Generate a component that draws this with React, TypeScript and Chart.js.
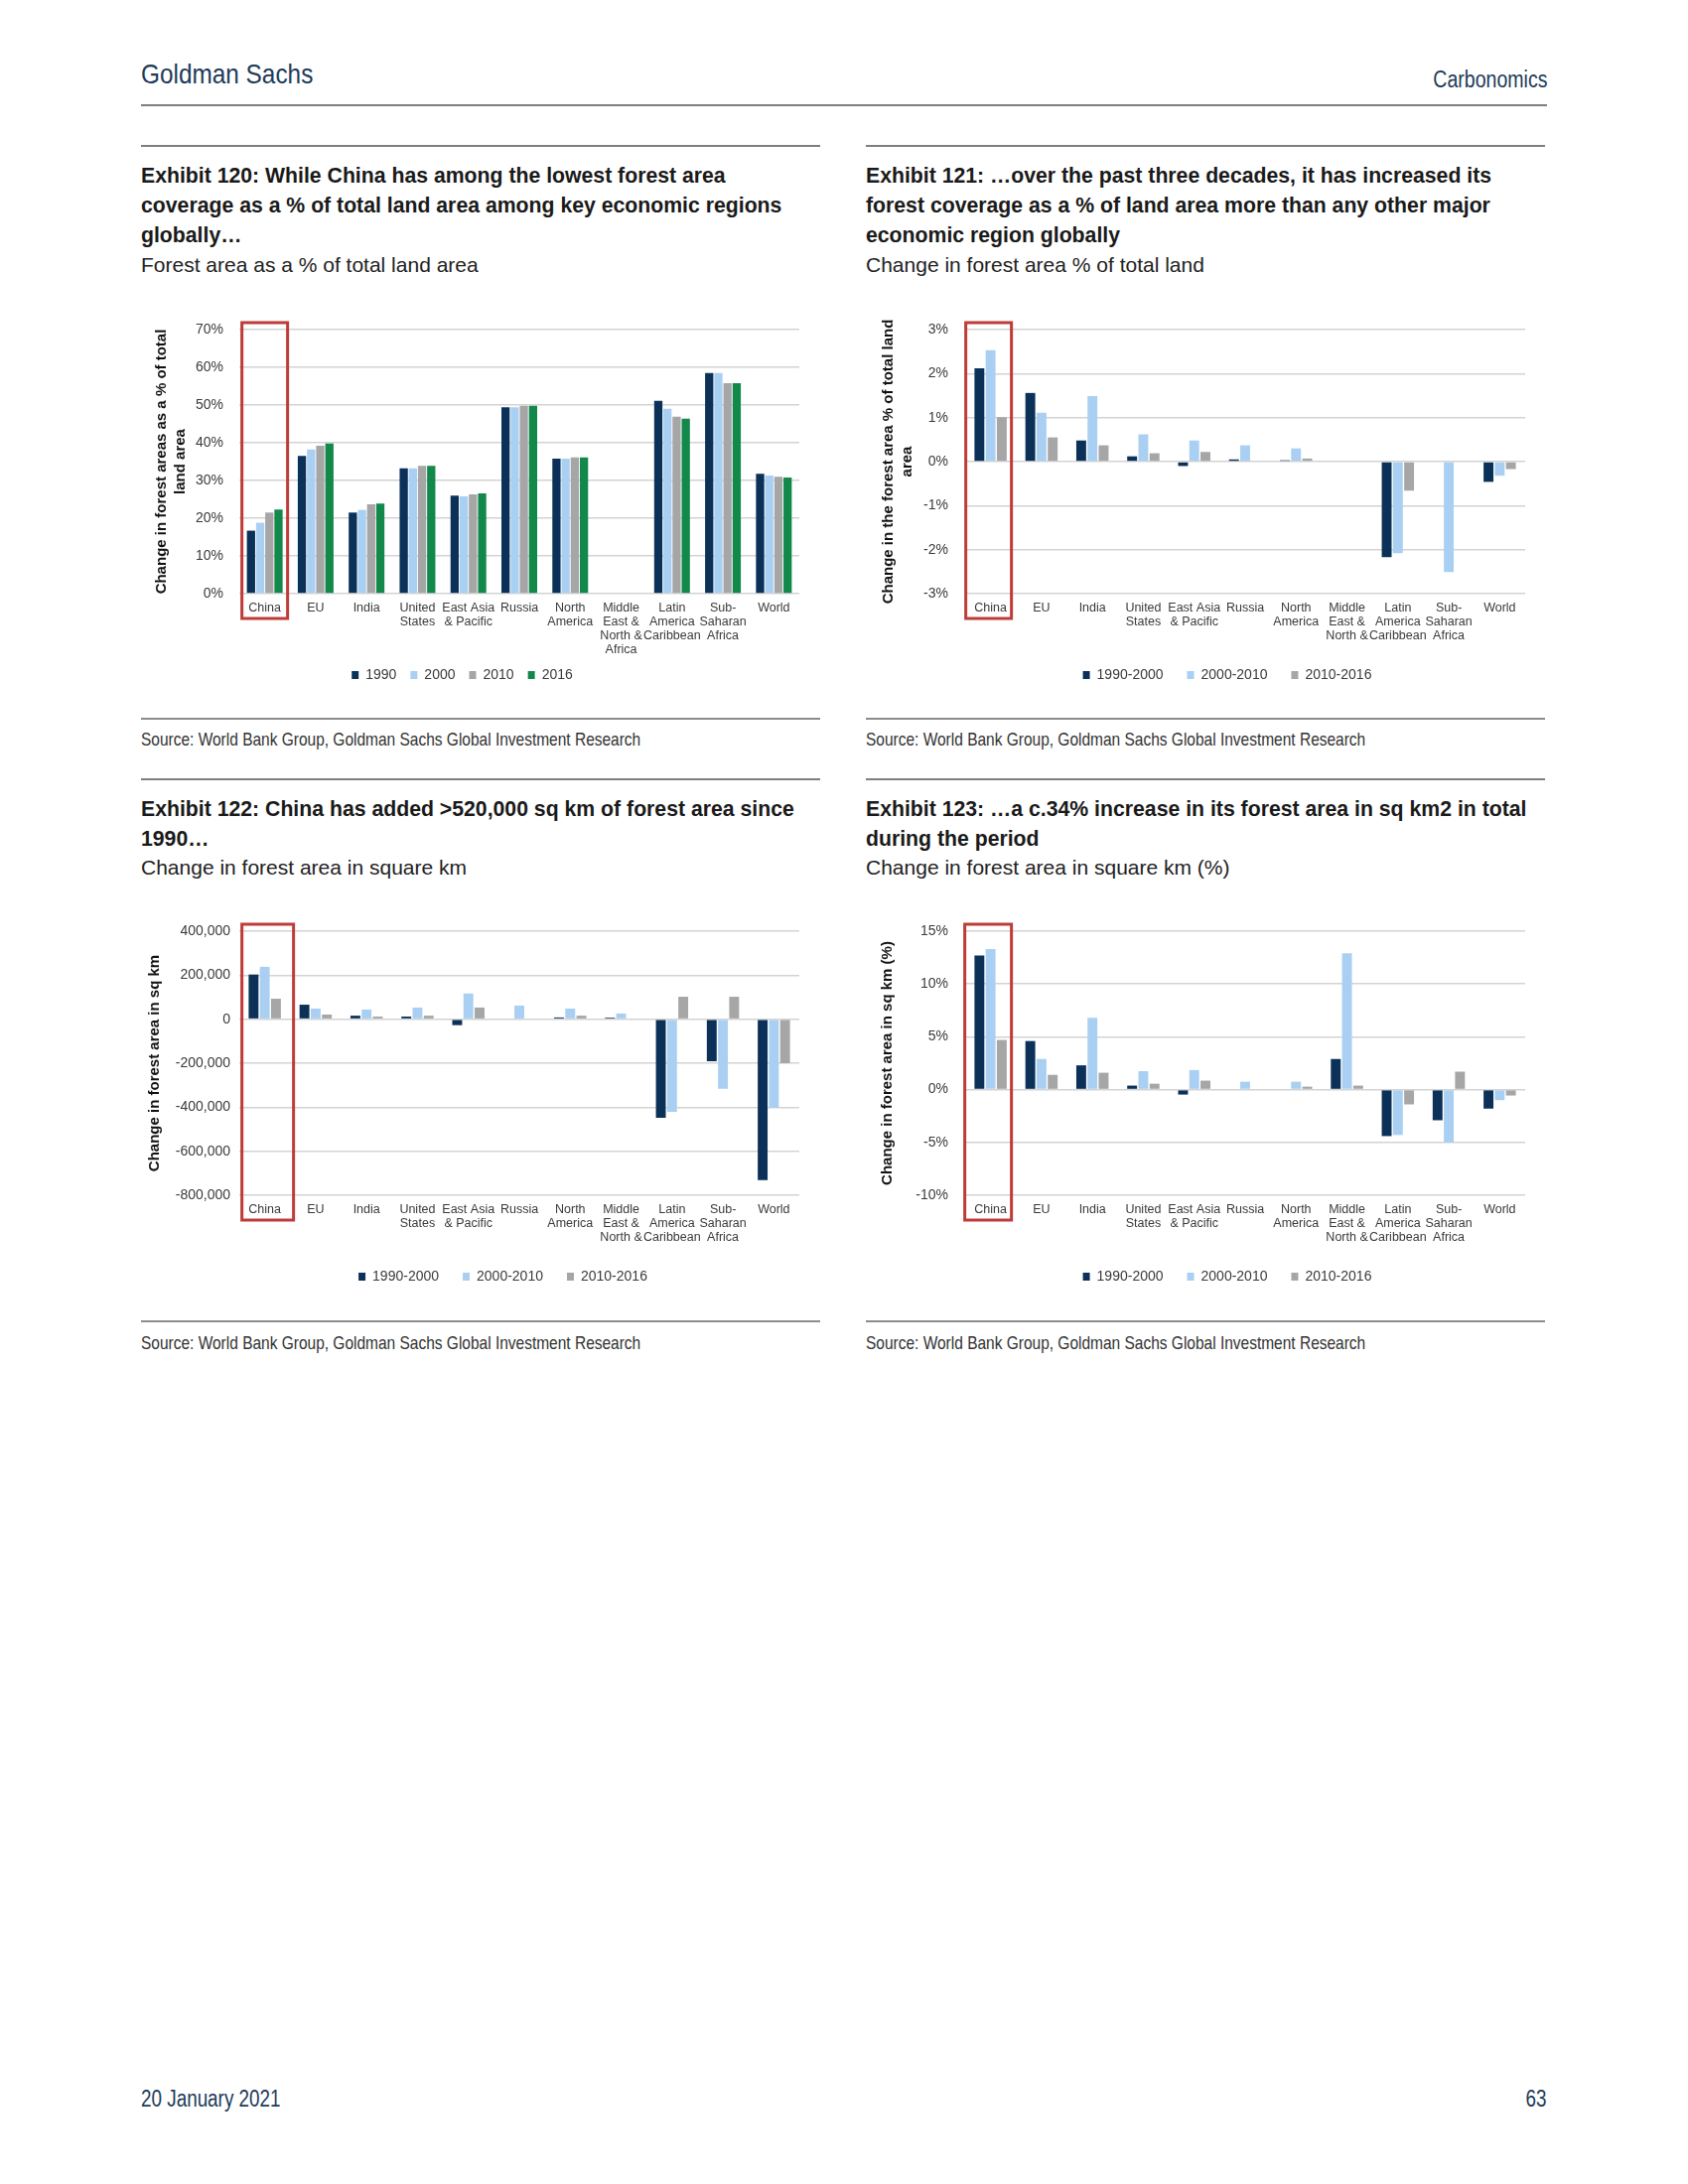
import React, { useEffect, useRef } from "react";
import { Chart, registerables } from "chart.js";

Chart.register(...registerables);

// ---------- data ----------
const regionLabels: (string | string[])[] = [
  "China",
  "EU",
  "India",
  ["United", "States"],
  ["East Asia", "& Pacific"],
  "Russia",
  ["North", "America"],
  ["Middle", "East &", "North &", "Africa"],
  ["Latin", "America", "Caribbean"],
  ["Sub-", "Saharan", "Africa"],
  "World",
];

const yearLabels = ["1990", "2000", "2010", "2016"];
const periodLabels = ["1990-2000", "2000-2010", "2010-2016"];

// Exhibit 120: forest area as % of total land area
const share1990 = [16.7, 36.5, 21.5, 33.2, 26.0, 49.4, 35.8, null, 51.1, 58.5, 31.8];
const share2000 = [18.8, 38.2, 22.2, 33.2, 25.8, 49.4, 35.8, null, 49.0, 58.5, 31.3];
const share2010 = [21.5, 39.2, 23.7, 33.9, 26.3, 49.8, 36.1, null, 46.9, 55.8, 31.0];
const share2016 = [22.3, 39.8, 23.9, 33.9, 26.6, 49.8, 36.1, null, 46.4, 55.8, 30.8];

// Exhibit 121: change in forest area % of total land (pp)
const landPct9000 = [2.12, 1.56, 0.48, 0.12, -0.1, 0.05, 0.03, null, -2.17, null, -0.46];
const landPct0010 = [2.53, 1.11, 1.49, 0.62, 0.48, 0.37, 0.3, 0.02, -2.08, -2.51, -0.32];
const landPct1016 = [1.01, 0.55, 0.37, 0.19, 0.22, null, 0.07, null, -0.66, null, -0.17];

// Exhibit 122: change in forest area, sq km
const sqkm9000 = [203000, 66000, 16000, 12000, -27000, null, 8000, 7000, -448000, -191000, -731000];
const sqkm0010 = [238000, 48000, 44000, 53000, 117000, 62000, 48000, 26000, -421000, -316000, -403000];
const sqkm1016 = [93000, 21000, 12000, 16000, 53000, null, 16000, null, 102000, 102000, -200000];

// Exhibit 123: change in forest area, sq km (%)
const areaPct9000 = [12.7, 4.6, 2.3, 0.38, -0.47, null, null, 2.9, -4.4, -2.9, -1.8];
const areaPct0010 = [13.3, 2.9, 6.8, 1.75, 1.85, 0.75, 0.75, 12.9, -4.3, -5.0, -1.0];
const areaPct1016 = [4.7, 1.4, 1.6, 0.56, 0.85, null, 0.28, 0.38, -1.4, 1.7, -0.56];

// ---------- styles ----------
const NAVY = "#0c3158";
const LIGHT = "#a9d0f2";
const GREY = "#a6a6a6";
const GREEN = "#12884a";
const RED = "#bf3b37";
const GRID = "#d3d3d3";
const CHART_TEXT = "#3a3a3a";
const SANS = "'Liberation Sans', Arial, sans-serif";
const BRAND = "#1d3b5a";

const highlightBox = {
  id: "highlightBox",
  afterDraw(chart: any, _args: any, opts: any) {
    if (!opts || opts.index == null) return;
    const xs = chart.scales.x;
    const area = chart.chartArea;
    const cx = xs.getPixelForValue(opts.index);
    const ctx = chart.ctx;
    ctx.save();
    ctx.strokeStyle = opts.color;
    ctx.lineWidth = opts.lineWidth;
    ctx.strokeRect(
      cx + opts.left,
      area.top - opts.above,
      opts.right - opts.left,
      area.bottom - area.top + opts.above + opts.below
    );
    ctx.restore();
  },
};

const legendShift = {
  id: "legendShift",
  afterLayout(chart: any, _args: any, opts: any) {
    const dx = opts && opts.dx ? opts.dx : 0;
    if (chart.legend && dx) {
      chart.legend.left += dx;
      chart.legend.right += dx;
    }
  },
};

type Series = { label: string; data: (number | null)[]; color: string };

type PanelProps = {
  left: number;
  top: number;
  width: number;
  height: number;
  series: Series[];
  yMin: number;
  yMax: number;
  yStep: number;
  fmt: (v: number) => string;
  yTitle: string | string[];
  titlePad: number;
  tickPad: number;
  yAxisWidth: number;
  padTop: number;
  padRight: number;
  padBottom: number;
  xHeight: number;
  legendPad: number;
  legendDx: number;
  catPct: number;
  barPct: number;
  box: { left: number; right: number; above: number; below: number };
};

function BarPanel(p: PanelProps) {
  const ref = useRef<HTMLCanvasElement>(null);
  useEffect(() => {
    if (!ref.current) return;
    const chart = new Chart(ref.current, {
      type: "bar",
      data: {
        labels: regionLabels as any,
        datasets: p.series.map((s) => ({
          label: s.label,
          data: s.data as any,
          backgroundColor: s.color,
          borderWidth: 0,
          categoryPercentage: p.catPct,
          barPercentage: p.barPct,
        })),
      },
      options: {
        animation: false,
        responsive: false,
        devicePixelRatio: 1,
        layout: { padding: { top: p.padTop, right: p.padRight, bottom: p.padBottom, left: 0 } },
        plugins: {
          legend: {
            position: "bottom",
            labels: {
              boxWidth: 7,
              boxHeight: 8,
              padding: p.legendPad,
              color: CHART_TEXT,
              font: { family: SANS, size: 14 },
            },
          },
          tooltip: { enabled: false },
          highlightBox: { index: 0, color: RED, lineWidth: 3, ...p.box },
          legendShift: { dx: p.legendDx },
        } as any,
        scales: {
          x: {
            grid: { display: false, drawTicks: false },
            border: { display: false },
            ticks: {
              autoSkip: false,
              maxRotation: 0,
              minRotation: 0,
              padding: 8,
              color: CHART_TEXT,
              font: { family: SANS, size: 12.5, lineHeight: 1.12 },
            },
            afterFit: (s: any) => {
              s.height = p.xHeight;
            },
          } as any,
          y: {
            min: p.yMin,
            max: p.yMax,
            ticks: {
              stepSize: p.yStep,
              padding: p.tickPad,
              color: CHART_TEXT,
              font: { family: SANS, size: 14 },
              callback: (v: any) => p.fmt(Number(v)),
            },
            grid: { color: GRID, lineWidth: 1.6, drawTicks: false },
            border: { display: false },
            title: {
              display: true,
              text: p.yTitle,
              color: "#111111",
              font: { family: SANS, size: 15, weight: "bold", lineHeight: 1.27 },
              padding: { top: p.titlePad, bottom: 0 },
            },
            afterFit: (s: any) => {
              s.width = p.yAxisWidth;
            },
          } as any,
        },
      },
      plugins: [highlightBox, legendShift],
    });
    return () => chart.destroy();
  }, []);
  return (
    <canvas
      ref={ref}
      width={p.width}
      height={p.height}
      style={{ position: "absolute", left: p.left, top: p.top, width: p.width, height: p.height }}
    />
  );
}

const pctFmt = (v: number) => `${Math.round(v)}%`;
const numFmt = (v: number) => Math.round(v).toLocaleString("en-US");

function Rule({ left, top, width, h, color }: { left: number; top: number; width: number; h: number; color: string }) {
  return <div style={{ position: "absolute", left, top, width, height: h, background: color }} />;
}

function TextLines({
  left,
  right,
  top,
  lines,
  size,
  lh,
  weight,
  color,
  sx = 1,
}: {
  left?: number;
  right?: number;
  top: number;
  lines: string[];
  size: number;
  lh: number;
  weight: number;
  color: string;
  sx?: number;
}) {
  const pos: any = { position: "absolute", top };
  if (right != null) pos.right = right;
  else pos.left = left;
  return (
    <div
      style={{
        ...pos,
        fontFamily: SANS,
        fontSize: size,
        lineHeight: `${lh}px`,
        fontWeight: weight,
        color,
        whiteSpace: "nowrap",
        transform: `scaleX(${sx})`,
        transformOrigin: right != null ? "right top" : "left top",
        textAlign: right != null ? "right" : "left",
      }}
    >
      {lines.map((l, i) => (
        <div key={i}>{l}</div>
      ))}
    </div>
  );
}

const SOURCE = "Source: World Bank Group, Goldman Sachs Global Investment Research";

export default function App() {
  const LX = 142;
  const RX = 872;
  const COLW = 684;
  return (
    <div
      style={{
        position: "absolute",
        left: 0,
        top: 0,
        width: 1700,
        height: 2200,
        background: "#ffffff",
        fontFamily: SANS,
        overflow: "hidden",
      }}
    >
      {/* header */}
      <TextLines left={LX} top={58} lines={["Goldman Sachs"]} size={28} lh={34} weight={400} color={BRAND} sx={0.87} />
      <TextLines right={142} top={66} lines={["Carbonomics"]} size={23} lh={28} weight={400} color={BRAND} sx={0.85} />
      <Rule left={LX} top={104.5} width={1416} h={2} color="#7f7f7f" />

      {/* top row */}
      <Rule left={LX} top={145.5} width={COLW} h={2} color="#7f7f7f" />
      <Rule left={RX} top={145.5} width={COLW} h={2} color="#7f7f7f" />
      <TextLines
        left={LX}
        top={161.5}
        lines={[
          "Exhibit 120: While China has among the lowest forest area",
          "coverage as a % of total land area among key economic regions",
          "globally…",
        ]}
        size={22}
        lh={30}
        weight={700}
        color="#1a1a1a"
        sx={0.965}
      />
      <TextLines left={LX} top={251.5} lines={["Forest area as a % of total land area"]} size={21} lh={30} weight={400} color="#222" />
      <TextLines
        left={RX}
        top={161.5}
        lines={[
          "Exhibit 121: …over the past three decades, it has increased its",
          "forest coverage as a % of land area more than any other major",
          "economic region globally",
        ]}
        size={22}
        lh={30}
        weight={700}
        color="#1a1a1a"
        sx={0.965}
      />
      <TextLines left={RX} top={251.5} lines={["Change in forest area % of total land"]} size={21} lh={30} weight={400} color="#222" />

      <BarPanel
        left={LX}
        top={300}
        width={686}
        height={400}
        series={[
          { label: yearLabels[0], data: share1990, color: NAVY },
          { label: yearLabels[1], data: share2000, color: LIGHT },
          { label: yearLabels[2], data: share2010, color: GREY },
          { label: yearLabels[3], data: share2016, color: GREEN },
        ]}
        yMin={0}
        yMax={70}
        yStep={10}
        fmt={pctFmt}
        yTitle={["Change in forest areas as a % of total", "land area"]}
        titlePad={11.5}
        tickPad={16}
        yAxisWidth={99}
        padTop={32}
        padRight={23}
        padBottom={3}
        xHeight={61}
        legendPad={14}
        legendDx={-8}
        catPct={0.72}
        barPct={0.9}
        box={{ left: -23, right: 23, above: 7, below: 25 }}
      />
      <BarPanel
        left={RX}
        top={300}
        width={688}
        height={400}
        series={[
          { label: periodLabels[0], data: landPct9000, color: NAVY },
          { label: periodLabels[1], data: landPct0010, color: LIGHT },
          { label: periodLabels[2], data: landPct1016, color: GREY },
        ]}
        yMin={-3}
        yMax={3}
        yStep={1}
        fmt={pctFmt}
        yTitle={["Change in the forest area % of total land", "area"]}
        titlePad={13.5}
        tickPad={17}
        yAxisWidth={100}
        padTop={32}
        padRight={24}
        padBottom={3}
        xHeight={51}
        legendPad={24}
        legendDx={32}
        catPct={0.66}
        barPct={0.88}
        box={{ left: -25, right: 21, above: 7, below: 25 }}
      />

      <Rule left={LX} top={723} width={COLW} h={1.5} color="#8c8c8c" />
      <Rule left={RX} top={723} width={COLW} h={1.5} color="#8c8c8c" />
      <TextLines left={LX} top={733} lines={[SOURCE]} size={19} lh={24} weight={400} color="#333" sx={0.815} />
      <TextLines left={RX} top={733} lines={[SOURCE]} size={19} lh={24} weight={400} color="#333" sx={0.815} />

      {/* bottom row */}
      <Rule left={LX} top={784} width={COLW} h={2} color="#7f7f7f" />
      <Rule left={RX} top={784} width={COLW} h={2} color="#7f7f7f" />
      <TextLines
        left={LX}
        top={799.5}
        lines={["Exhibit 122: China has added >520,000 sq km of forest area since", "1990…"]}
        size={22}
        lh={30}
        weight={700}
        color="#1a1a1a"
        sx={0.965}
      />
      <TextLines left={LX} top={859} lines={["Change in forest area in square km"]} size={21} lh={30} weight={400} color="#222" />
      <TextLines
        left={RX}
        top={799.5}
        lines={["Exhibit 123: …a c.34% increase in its forest area in sq km2 in total", "during the period"]}
        size={22}
        lh={30}
        weight={700}
        color="#1a1a1a"
        sx={0.965}
      />
      <TextLines left={RX} top={859} lines={["Change in forest area in square km (%)"]} size={21} lh={30} weight={400} color="#222" />

      <BarPanel
        left={LX}
        top={900}
        width={686}
        height={406}
        series={[
          { label: periodLabels[0], data: sqkm9000, color: NAVY },
          { label: periodLabels[1], data: sqkm0010, color: LIGHT },
          { label: periodLabels[2], data: sqkm1016, color: GREY },
        ]}
        yMin={-800000}
        yMax={400000}
        yStep={200000}
        fmt={numFmt}
        yTitle="Change in forest area in sq km"
        titlePad={4.5}
        tickPad={9}
        yAxisWidth={99}
        padTop={38}
        padRight={23}
        padBottom={3}
        xHeight={51}
        legendPad={24}
        legendDx={33}
        catPct={0.66}
        barPct={0.88}
        box={{ left: -23, right: 29, above: 7, below: 25 }}
      />
      <BarPanel
        left={RX}
        top={900}
        width={688}
        height={406}
        series={[
          { label: periodLabels[0], data: areaPct9000, color: NAVY },
          { label: periodLabels[1], data: areaPct0010, color: LIGHT },
          { label: periodLabels[2], data: areaPct1016, color: GREY },
        ]}
        yMin={-10}
        yMax={15}
        yStep={5}
        fmt={pctFmt}
        yTitle="Change in forest area in sq km (%)"
        titlePad={12.5}
        tickPad={17}
        yAxisWidth={100}
        padTop={38}
        padRight={24}
        padBottom={3}
        xHeight={51}
        legendPad={24}
        legendDx={32}
        catPct={0.66}
        barPct={0.88}
        box={{ left: -26, right: 21, above: 7, below: 25 }}
      />

      <Rule left={LX} top={1330} width={COLW} h={1.5} color="#8c8c8c" />
      <Rule left={RX} top={1330} width={COLW} h={1.5} color="#8c8c8c" />
      <TextLines left={LX} top={1341} lines={[SOURCE]} size={19} lh={24} weight={400} color="#333" sx={0.815} />
      <TextLines left={RX} top={1341} lines={[SOURCE]} size={19} lh={24} weight={400} color="#333" sx={0.815} />

      {/* footer */}
      <TextLines left={LX} top={2100} lines={["20 January 2021"]} size={23} lh={28} weight={400} color={BRAND} sx={0.82} />
      <TextLines right={142} top={2100} lines={["63"]} size={23} lh={28} weight={400} color={BRAND} sx={0.82} />
    </div>
  );
}
